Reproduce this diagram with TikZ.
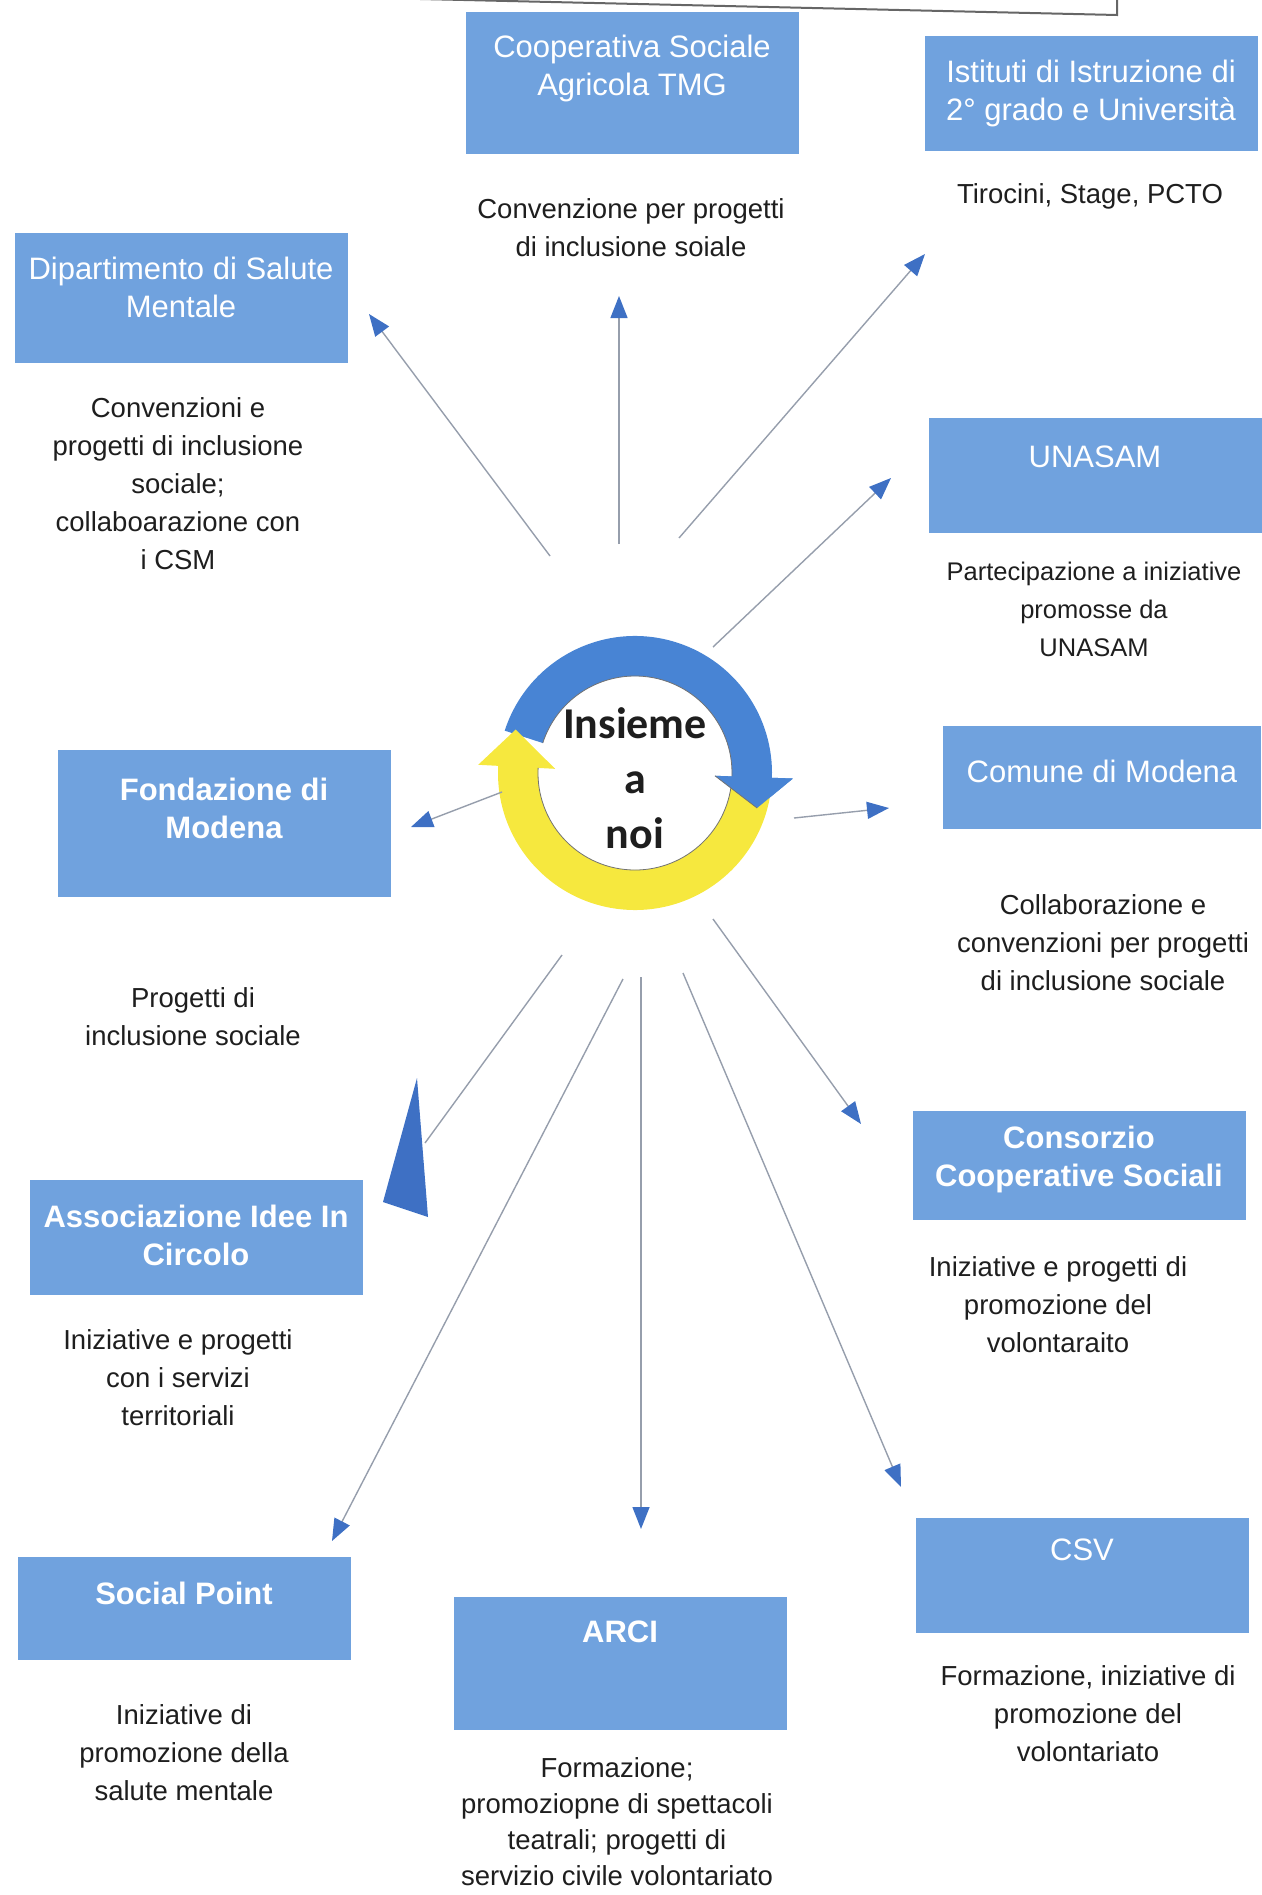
\documentclass[tikz,border=0pt]{standalone}
\usepackage{fontspec}
\setmainfont{Liberation Sans}
\newfontfamily\corefont{Carlito}
\usetikzlibrary{arrows.meta}

\definecolor{boxblue}{RGB}{112,162,222}
\definecolor{ringblue}{RGB}{72,132,212}
\definecolor{ringyellow}{RGB}{246,232,62}
\definecolor{tipblue}{RGB}{62,112,196}
\definecolor{linkgray}{RGB}{150,158,172}
\definecolor{textgray}{RGB}{30,30,30}

\begin{document}
\begin{tikzpicture}[x=1pt,y=-1pt,
    box/.style={fill=boxblue, minimum width=333pt, inner sep=0pt},
    lbl/.style={text=white, align=center, font=\fontsize{31}{38}\selectfont},
    blbl/.style={text=white, align=center, font=\fontsize{31}{38}\selectfont\bfseries},
    desc/.style={align=center, text=textgray, font=\fontsize{27.5}{38}\selectfont},
    link/.style={draw=linkgray, line width=1.4pt,
                 -{Triangle[length=22pt,width=17pt,color=tipblue]}}]
  \tikzstyle{core}=[align=center, text=textgray, font=\fontsize{44}{55}\corefont\bfseries]
  \tikzstyle{ring}=[draw=black!55, line width=0.8pt]

  \useasboundingbox (0,0) rectangle (1261,1895);

  % frame cut off at the top
  \draw[black!60, line width=2pt] (333,-3) -- (1117,15) -- (1117,-3);

  % boxes
  \node[box, minimum height=142pt] (coop)  at (632,83)    {};
  \node[box, minimum height=115pt] (ist)   at (1091,93)   {};
  \node[box, minimum height=130pt] (dip)   at (181,298)   {};
  \node[box, minimum height=115pt] (una)   at (1095,475)  {};
  \node[box, minimum height=147pt] (fond)  at (224,823)   {};
  \node[box, minimum height=103pt, minimum width=318pt] (com) at (1102,777) {};
  \node[box, minimum height=109pt] (cons)  at (1079,1165) {};
  \node[box, minimum height=115pt] (assoc) at (196,1237)  {};
  \node[box, minimum height=103pt] (sp)    at (184,1608)  {};
  \node[box, minimum height=133pt] (arci)  at (620,1663)  {};
  \node[box, minimum height=115pt] (csv)   at (1082,1575) {};

  \node[lbl]  (coopL)  at (632,68)    {Cooperativa Sociale\\Agricola TMG};
  \node[lbl]  (istL)   at (1091,93)   {Istituti di Istruzione di\\2° grado e Università};
  \node[lbl]  (dipL)   at (181,287)   {Dipartimento di Salute\\Mentale};
  \node[lbl]  (unaL)   at (1095,457)  {UNASAM};
  \node[blbl] (fondL)  at (224,808)   {Fondazione di\\Modena};
  \node[lbl]  (comL)   at (1102,771)  {Comune di Modena};
  \node[blbl] (consL)  at (1079,1159) {Consorzio\\Cooperative Sociali};
  \node[blbl] (assocL) at (196,1235)  {Associazione Idee In\\Circolo};
  \node[blbl] (spL)    at (184,1593)  {Social Point};
  \node[blbl] (arciL)  at (620,1632)  {ARCI};
  \node[lbl]  (csvL)   at (1082,1550) {CSV};

  % what each one does
  \node[desc] (coopD)  at (631,228)  {Convenzione per progetti\\di inclusione soiale};
  \node[desc] (istD)   at (1090,196) {Tirocini, Stage, PCTO};
  \node[desc] (dipD)   at (178,484)  {Convenzioni e\\progetti di inclusione\\sociale;\\collaboarazione con\\i CSM};
  \node[desc, font=\fontsize{25.5}{38}\selectfont] (unaD) at (1094,609) {Partecipazione a iniziative\\promosse da\\UNASAM};
  \node[desc] (fondD)  at (193,1017) {Progetti di\\inclusione sociale};
  \node[desc] (comD)   at (1103,943) {Collaborazione e\\convenzioni per progetti\\di inclusione sociale};
  \node[desc] (consD)  at (1058,1305) {Iniziative e progetti di\\promozione del\\volontaraito};
  \node[desc] (assocD) at (178,1378) {Iniziative e progetti\\con i servizi\\territoriali};
  \node[desc] (spD)    at (184,1753) {Iniziative di\\promozione della\\salute mentale};
  \node[desc, font=\fontsize{27.5}{36}\selectfont] (arciD) at (617,1822) {Formazione;\\promoziopne di spettacoli\\teatrali; progetti di\\servizio civile volontariato};
  \node[desc] (csvD)   at (1088,1714) {Formazione, iniziative di\\promozione del\\volontariato};

  % the two circling arrows
  \coordinate (hub) at (635,773);
  \begin{scope}[shift={(hub)}]
    \fill[ringblue] (-162:137) arc[start angle=-162, end angle=2, radius=137]
      -- (2:158) -- (16:127) -- (2:80) -- (2:97)
      arc[start angle=2, end angle=-162, radius=97] -- cycle;
    \draw[ring] (2:97) arc[start angle=2, end angle=-162, radius=97];
    \fill[ringyellow] (5:137) arc[start angle=5, end angle=183, radius=137]
      -- (183:157) -- (200:127) -- (183:80) -- (183:97)
      arc[start angle=183, end angle=5, radius=97] -- cycle;
    \draw[ring] (183:97) arc[start angle=183, end angle=5, radius=97];
    \fill[ringblue] (2:158) -- (16:127) -- (2:80) -- cycle;
    \draw[ring] (2:80) -- (16:127);
  \end{scope}
  \node[core] (core) at (635,778) {Insieme\\a\\noi};

  % ends of the connectors
  \coordinate (s1) at (550,556);  \coordinate (e1) at (369,314);
  \coordinate (s2) at (619,544);  \coordinate (e2) at (619,296);
  \coordinate (s3) at (679,538);  \coordinate (e3) at (925,254);
  \coordinate (s4) at (713,647);  \coordinate (e4) at (891,478);
  \coordinate (s5) at (502,792);  \coordinate (e5) at (411,827);
  \coordinate (s6) at (794,818);  \coordinate (e6) at (889,808);
  \coordinate (s7) at (713,919);  \coordinate (e7) at (861,1124);
  \coordinate (s8) at (683,973);  \coordinate (e8) at (901,1487);
  \coordinate (s9) at (641,977);  \coordinate (e9) at (641,1529);
  \coordinate (s10) at (623,979); \coordinate (e10) at (332,1541);
  \coordinate (s11) at (562,955); \coordinate (e11) at (425,1143);

  \draw[link] (s1) -- (e1);
  \draw[link] (s2) -- (e2);
  \draw[link] (s3) -- (e3);
  \draw[link] (s4) -- (e4);
  \draw[link] (s5) -- (e5);
  \draw[link] (s6) -- (e6);
  \draw[link] (s7) -- (e7);
  \draw[link] (s8) -- (e8);
  \draw[link] (s9) -- (e9);
  \draw[link] (s10) -- (e10);
  \draw[draw=linkgray, line width=1.4pt] (s11) -- (e11);
  \fill[tipblue] (417,1078) -- (383,1202) -- (428,1217) -- cycle;
\end{tikzpicture}
\end{document}
